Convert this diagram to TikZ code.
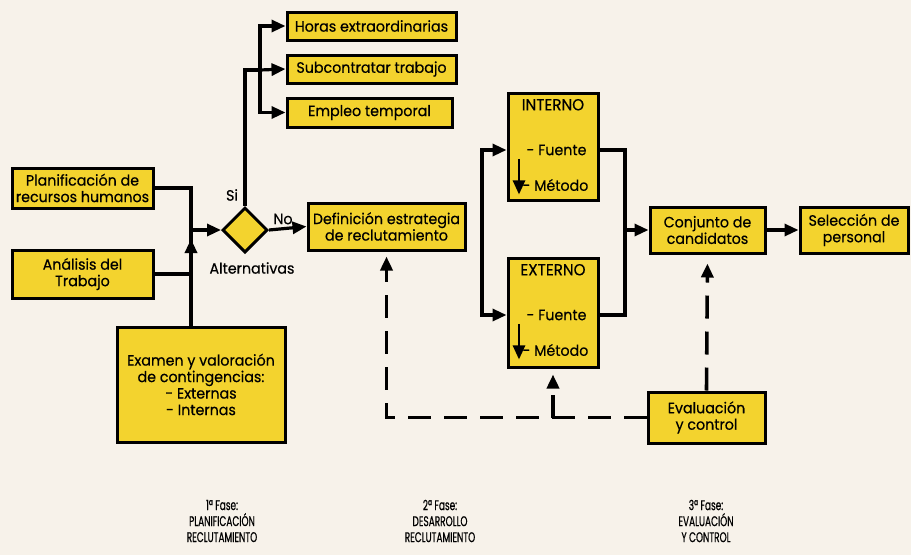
\documentclass[tikz,border=0pt]{standalone}
\usepackage{fontspec}
\setmainfont{Poppins}
\newfontfamily\diagfont{Poppins}[FakeStretch=0.95, FakeBold=0.4]
\newfontfamily\phasefont{Poppins}[FakeStretch=0.64, FakeBold=0.6]
\usetikzlibrary{shapes.geometric, arrows.meta, positioning, calc}
\definecolor{paper}{RGB}{247,242,234}
\definecolor{boxfill}{RGB}{243,211,46}

\begin{document}
\begin{tikzpicture}[
    x=1pt, y=-1pt,
    box/.style={rectangle, draw=black, fill=boxfill, line width=3pt, inner sep=2pt, align=center, font=\diagfont\fontsize{15}{16.5}\selectfont},
    choice/.style={diamond, draw=black, fill=boxfill, line width=3pt, minimum width=45pt, minimum height=45pt, inner sep=0pt},
    line/.style={line width=3.2pt},
    arrow/.style={-{Triangle[length=14pt,width=12pt]}, line width=3.2pt},
    dasharrow/.style={arrow, line width=3.6pt, dash pattern=on 23pt off 13pt},
    note/.style={font=\diagfont\fontsize{15}{16.5}\selectfont, align=center},
    title/.style={font=\diagfont\fontsize{16}{18}\selectfont},
    phase/.style={font=\phasefont\fontsize{14}{16}\selectfont, align=center}
]
\fill[paper] (0,0) rectangle (911,555);
\useasboundingbox (0,0) rectangle (911,555);

% Phase 1: inputs
\node[box, minimum width=141pt, minimum height=40pt] (plan) at (82.5,188) {Planificación de\\recursos humanos};
\node[box, minimum width=141pt, minimum height=48pt] (analisis) at (82.5,274) {Análisis del\\Trabajo};
\node[box, minimum width=168pt, minimum height=115pt] (examen) at (201,384.5) {Examen y valoración\\de contingencias:\\- Externas\\- Internas};

% Decision
\node[choice] (alt) at (245,230) {};
\node[note] (si) at (232,195) {Si};
\node[note] (no) at (283,219) {No};
\node[note] (altlabel) at (252,268) {Alternativas};

% Alternatives
\node[box, minimum width=169pt, minimum height=28pt] (horas) at (371.5,26) {Horas extraordinarias};
\node[box, minimum width=169pt, minimum height=28pt] (subcon) at (371.5,69) {Subcontratar trabajo};
\node[box, minimum width=165pt, minimum height=29pt] (empleo) at (369.5,112.5) {Empleo temporal};

% Phase 2: strategy and sources
\node[box, minimum width=157pt, minimum height=47pt] (estrategia) at (386.5,226.5) {Definición estrategia\\de reclutamiento};

\node[box, minimum width=90pt, minimum height=107pt] (interno) at (553,146.5) {};
\node[title, anchor=north] (intTitle) at ([yshift=-4pt]interno.north) {INTERNO};
\node[note, anchor=west] (intF) at (523,150) {- Fuente};
\node[note, anchor=west] (intM) at (519,185) {- Método};

\node[box, minimum width=90pt, minimum height=109pt] (externo) at (553,312.5) {};
\node[title, anchor=north] (extTitle) at ([yshift=-4pt]externo.north) {EXTERNO};
\node[note, anchor=west] (extF) at (523,315) {- Fuente};
\node[note, anchor=west] (extM) at (519,350) {- Método};

% Phase 3: candidates and control
\node[box, minimum width=115pt, minimum height=46pt] (conjunto) at (707.5,230) {Conjunto de\\candidatos};
\node[box, minimum width=108pt, minimum height=46pt] (seleccion) at (854,230) {Selección de\\personal};
\node[box, minimum width=117pt, minimum height=51pt] (evaluacion) at (706.5,417.5) {Evaluación\\y control};

% Phase captions
\node[phase] (fase1) at (222,521) {1ª Fase:\\PLANIFICACIÓN\\RECLUTAMIENTO};
\node[phase] (fase2) at (440,521) {2ª Fase:\\DESARROLLO\\RECLUTAMIENTO};
\node[phase] (fase3) at (706,521) {3ª Fase:\\EVALUACIÓN\\Y CONTROL};

% Junction points
\coordinate (join) at (191,230);
\coordinate (fork) at (260,70);
\coordinate (split) at (482,230);
\coordinate (merge) at (625,230);

% Arrows
\draw[line] (plan.east) -| (join);
\draw[line] (analisis.east) -| (join);
\draw[arrow] (join) -- (alt.west);
\draw[arrow] (join |- examen.north) -- ([yshift=-9pt]join);

\draw[line] (alt.north) |- (fork);
\draw[line] (fork |- horas.west) -- (fork |- empleo.west);
\draw[arrow] (fork) |- (horas.west);
\draw[arrow] (fork) -- (subcon.west);
\draw[arrow] (fork) |- (empleo.west);

\draw[arrow] (alt.east) -- (estrategia.west);

\draw[arrow] (split) |- (interno.west |- intF);
\draw[arrow] (split) |- (externo.west |- extF);
\draw[line] (split |- intF) -- (split |- extF);
\draw[arrow, line width=2.6pt] (intM.west |- intF.south) -- (intM.south west);
\draw[arrow, line width=2.6pt] (extM.west |- extF.south) -- (extM.south west);

\draw[line] (interno.east |- intF) -| (merge);
\draw[line] (externo.east |- extF) -| (merge);
\draw[arrow] (merge) -- (conjunto.west);
\draw[arrow] (conjunto) -- (seleccion);

% Control feedback
\draw[dasharrow, shorten >=9pt] (evaluacion.north) -- (conjunto.south);
\draw[dasharrow, shorten >=5pt] (evaluacion.west) -- (estrategia.south |- evaluacion.west) -- (estrategia.south);
\draw[dasharrow, shorten >=6pt] (externo.south |- evaluacion.west) -- (externo.south);

\end{tikzpicture}
\end{document}
